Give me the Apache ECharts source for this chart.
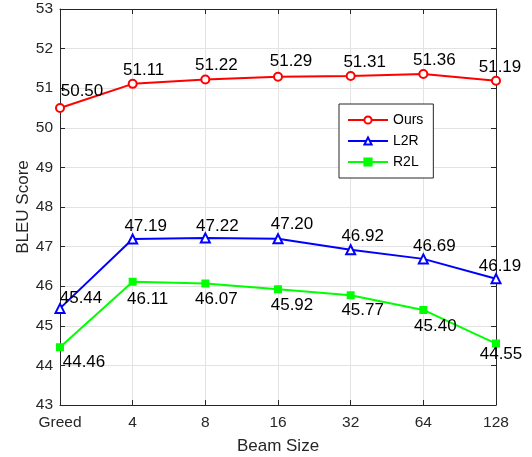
<!DOCTYPE html>
<html>
<head>
<meta charset="utf-8">
<script src="https://cdn.jsdelivr.net/npm/echarts@6/dist/echarts.min.js"></script>
<style>html,body{margin:0;padding:0;background:#fff}#c{width:532px;height:457px}</style>
</head>
<body>
<div id="c"></div>
<script>
const categories = ['Greed', '4', '8', '16', '32', '64', '128'];
const ours = [50.50, 51.11, 51.22, 51.29, 51.31, 51.36, 51.19];
const l2r = [45.44, 47.19, 47.22, 47.20, 46.92, 46.69, 46.19];
const r2l = [44.46, 46.11, 46.07, 45.92, 45.77, 45.40, 44.55];
const seriesNames = ['Ours', 'L2R', 'R2L'];

// label placement (offset from the marker centre), style only
const oursLabelOffsets = [[22,-17],[11,-14],[11,-14],[13,-15],[14,-14],[11,-14],[4,-13]];
const l2rLabelOffsets = [[21,-10],[13,-13],[12,-12],[14,-14],[12,-13],[11,-13],[4,-12]];
const r2lLabelOffsets = [[24,15],[15,17],[11,16],[14,16],[12,15],[12,16],[5,11]];

const FONT = "'Liberation Sans', Arial, Helvetica, sans-serif";
const AX = '#262626';

function withLabels(values, offsets) {
  return values.map((v, i) => ({
    value: v,
    label: { offset: offsets[i] }
  }));
}

function lineSeries(name, values, offsets, color, symbol, size) {
  return {
    name: name,
    type: 'line',
    data: withLabels(values, offsets),
    symbol: symbol,
    symbolSize: size,
    lineStyle: { color: color, width: 2 },
    itemStyle: { color: color, borderColor: color, borderWidth: 2 },
    label: {
      show: true,
      position: 'inside',
      formatter: p => p.value.toFixed(2),
      color: '#000',
      fontFamily: FONT,
      fontSize: 17
    },
    emphasis: { disabled: true },
    animation: false,
    z: 3
  };
}

const chart = echarts.init(document.getElementById('c'));
chart.setOption({
  animation: false,
  backgroundColor: '#fff',
  grid: { left: 60, right: 36, top: 9, bottom: 52, containLabel: false, outerBoundsMode: 'none' },
  legend: {
    data: seriesNames,
    orient: 'vertical',
    left: 339,
    top: 104,
    padding: [9, 10, 9, 8],
    itemGap: 7,
    itemWidth: 40,
    itemHeight: 9,
    backgroundColor: '#fff',
    borderColor: AX,
    borderWidth: 1,
    textStyle: { fontFamily: FONT, fontSize: 14, color: '#000', lineHeight: 14 }
  },
  xAxis: [{
    type: 'category',
    data: categories,
    boundaryGap: false,
    name: 'Beam Size',
    nameLocation: 'middle',
    nameGap: 33,
    nameMoveOverlap: false,
    nameTextStyle: { fontFamily: FONT, fontSize: 17, color: AX },
    axisLine: { lineStyle: { color: AX, width: 1 } },
    axisTick: { inside: true, length: 5, lineStyle: { color: AX } },
    axisLabel: { fontFamily: FONT, fontSize: 15.5, color: AX, margin: 10 },
    splitLine: { show: true, lineStyle: { color: '#e3e3e3', width: 1 } }
  }, {
    type: 'category',
    data: categories,
    boundaryGap: false,
    position: 'top',
    axisLine: { lineStyle: { color: AX, width: 1 } },
    axisTick: { inside: true, length: 5, lineStyle: { color: AX } },
    axisLabel: { show: false },
    splitLine: { show: false }
  }],
  yAxis: [{
    type: 'value',
    min: 43,
    max: 53,
    interval: 1,
    name: 'BLEU Score',
    nameLocation: 'middle',
    nameGap: 28,
    nameMoveOverlap: false,
    nameTextStyle: { fontFamily: FONT, fontSize: 17, color: AX },
    axisLine: { show: true, lineStyle: { color: AX, width: 1 } },
    axisTick: { show: true, inside: true, length: 5, lineStyle: { color: AX } },
    axisLabel: { fontFamily: FONT, fontSize: 15.5, color: AX, margin: 7 },
    splitLine: { show: true, lineStyle: { color: '#e3e3e3', width: 1 } }
  }, {
    type: 'value',
    min: 43,
    max: 53,
    interval: 1,
    position: 'right',
    axisLine: { show: true, lineStyle: { color: AX, width: 1 } },
    axisTick: { show: true, inside: true, length: 5, lineStyle: { color: AX } },
    axisLabel: { show: false },
    splitLine: { show: false }
  }],
  series: [
    lineSeries('Ours', ours, oursLabelOffsets, '#ff0000', 'emptyCircle', 8),
    lineSeries('L2R', l2r, l2rLabelOffsets, '#0000ff', 'emptyTriangle', 9),
    lineSeries('R2L', r2l, r2lLabelOffsets, '#00ff00', 'rect', 6)
  ]
});
</script>
</body>
</html>
